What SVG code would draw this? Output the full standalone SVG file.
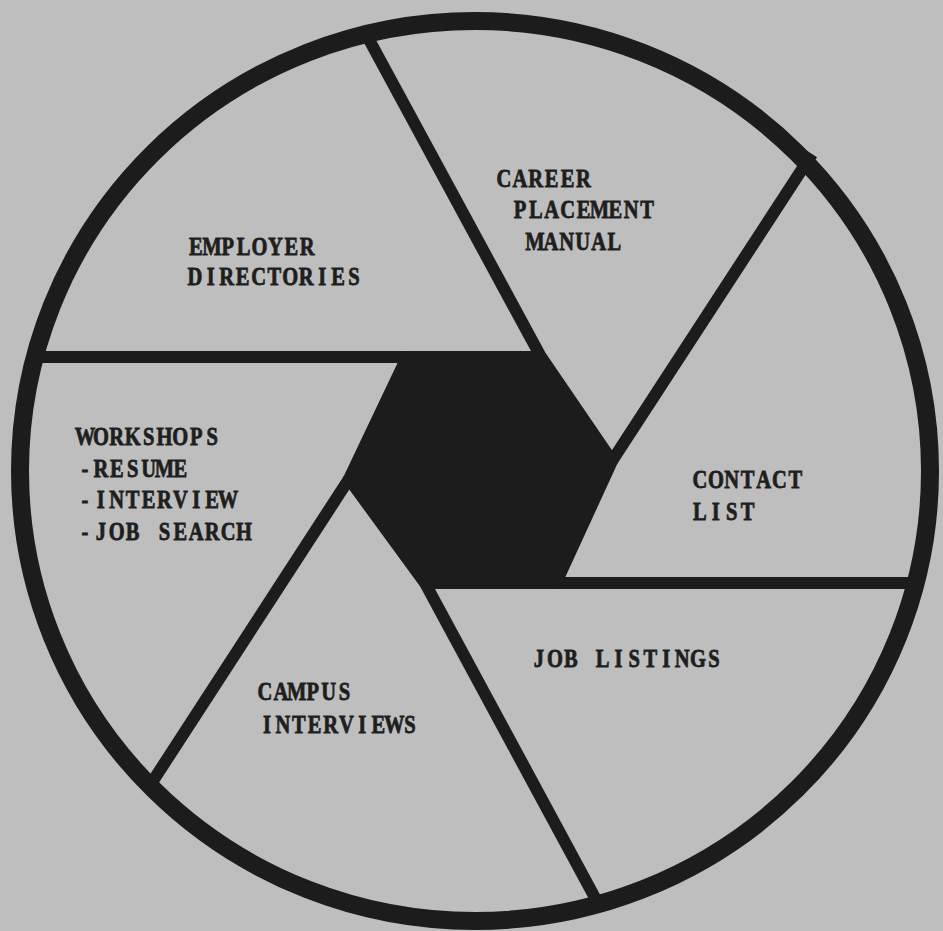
<svg xmlns="http://www.w3.org/2000/svg" width="943" height="931" viewBox="0 0 943 931">
<style>
.bg{fill:#bebebe}
.rim{fill:none;stroke:#1c1c1c;stroke-width:18}
.spoke{fill:none;stroke:#1c1c1c;stroke-width:12;stroke-linecap:butt;stroke-linejoin:round}
.hex{fill:#1c1c1c;stroke:#1c1c1c;stroke-width:12;stroke-linejoin:round}
.t{font-family:"Liberation Serif","DejaVu Serif",serif;font-weight:bold;font-size:25px;fill:#1e1e1e;stroke:#1e1e1e;stroke-width:0.8;text-anchor:middle}
</style>
<rect class="bg" x="0" y="0" width="943" height="931"/>
<g id="connectors">
<ellipse class="rim" cx="475" cy="471" rx="455" ry="450"/>
<polyline class="spoke" points="30,357 407,357"/>
<polyline class="spoke" points="366,34 541,357"/>
<polyline class="spoke" points="812,154 612,461"/>
<polyline class="spoke" points="920,583 556,583"/>
<polyline class="spoke" points="600,907 425,583"/>
<polyline class="spoke" points="149,787 349,479"/>
</g>
<g id="hub">
<polygon class="hex" points="407,357 541,357 612,461 556,583 425,583 349,479"/>
</g>
<g id="node-employer">
<text class="t" transform="translate(188,255) scale(0.82,1)" x="9.7 29.1 48.5 67.9 87.3 106.6 126 145.4" y="0">EMPLOYER</text>
<text class="t" transform="translate(187,285) scale(0.82,1)" x="9.7 29.1 48.5 67.9 87.3 106.6 126 145.4 164.8 184.2 203.6" y="0">DIRECTORIES</text>
</g>
<g id="node-career">
<text class="t" transform="translate(496,187) scale(0.82,1)" x="9.7 29.1 48.5 67.9 87.3 106.6" y="0">CAREER</text>
<text class="t" transform="translate(512,218) scale(0.82,1)" x="9.7 29.1 48.5 67.9 87.3 106.6 126 145.4 164.8" y="0">PLACEMENT</text>
<text class="t" transform="translate(527,250) scale(0.82,1)" x="9.7 29.1 48.5 67.9 87.3 106.6" y="0">MANUAL</text>
</g>
<g id="node-workshops">
<text class="t" transform="translate(77,445) scale(0.82,1)" x="9.7 29.1 48.5 67.9 87.3 106.6 126 145.4 164.8" y="0">WORKSHOPS</text>
<text class="t" transform="translate(77,477) scale(0.82,1)" x="9.7 29.1 48.5 67.9 87.3 106.6 126" y="0">-RESUME</text>
<text class="t" transform="translate(77,508) scale(0.82,1)" x="9.7 29.1 48.5 67.9 87.3 106.6 126 145.4 164.8 184.2" y="0">-INTERVIEW</text>
<text class="t" transform="translate(77,540) scale(0.82,1)" x="9.7 29.1 48.5 67.9 87.3 106.6 126 145.4 164.8 184.2 203.6" y="0">-JOB SEARCH</text>
</g>
<g id="node-contact">
<text class="t" transform="translate(692,488) scale(0.82,1)" x="9.7 29.1 48.5 67.9 87.3 106.6 126" y="0">CONTACT</text>
<text class="t" transform="translate(692,520) scale(0.82,1)" x="9.7 29.1 48.5 67.9" y="0">LIST</text>
</g>
<g id="node-joblistings">
<text class="t" transform="translate(531,667) scale(0.82,1)" x="9.7 29.1 48.5 67.9 87.3 106.6 126 145.4 164.8 184.2 203.6 223" y="0">JOB LISTINGS</text>
</g>
<g id="node-campus">
<text class="t" transform="translate(257,700) scale(0.82,1)" x="9.7 29.1 48.5 67.9 87.3 106.6" y="0">CAMPUS</text>
<text class="t" transform="translate(259,733) scale(0.82,1)" x="9.7 29.1 48.5 67.9 87.3 106.6 126 145.4 164.8 184.2" y="0">INTERVIEWS</text>
</g>
</svg>
